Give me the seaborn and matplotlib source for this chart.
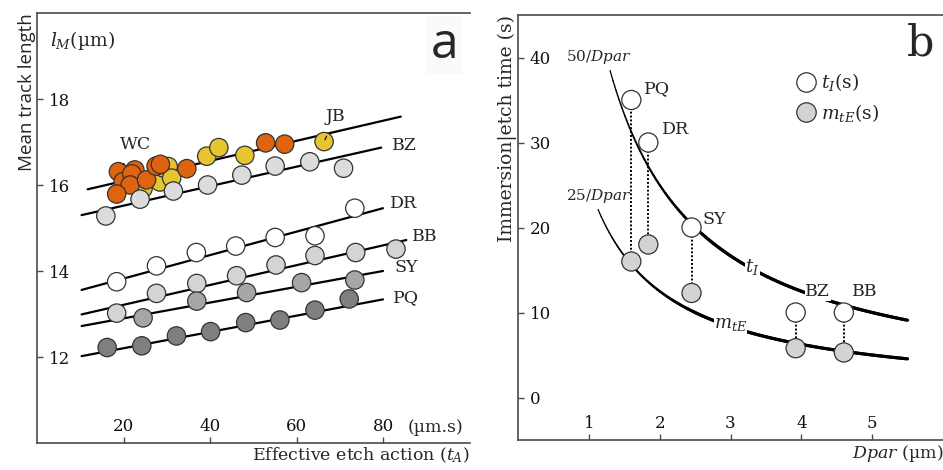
import numpy as np
import pandas as pd
import matplotlib
matplotlib.use("Agg")
import matplotlib.pyplot as plt
import seaborn as sns
from matplotlib.collections import LineCollection
from matplotlib.lines import Line2D

# ---------------- Panel a data ----------------
jb_x = [24.5, 28.4, 29.1, 30.3, 31.1, 39.2, 42.0, 48.0, 66.3]
jb_y = [15.92, 16.07, 16.40, 16.43, 16.16, 16.67, 16.87, 16.69, 17.01]
wc_x = [18.8, 22.6, 19.9, 21.9, 21.5, 18.4, 25.3, 27.5, 28.5, 34.6, 52.8, 57.2]
wc_y = [16.31, 16.35, 16.08, 16.26, 16.00, 15.79, 16.12, 16.44, 16.48, 16.38, 16.98, 16.95]
bz_x = [15.9, 23.8, 31.5, 39.4, 47.3, 55.0, 63.0, 70.8]
bz_y = [15.28, 15.67, 15.86, 16.00, 16.23, 16.44, 16.54, 16.39]
dr_x = [18.4, 27.6, 36.8, 45.9, 55.0, 64.2, 73.4]
dr_y = [13.75, 14.12, 14.43, 14.58, 14.78, 14.82, 15.46]
bb_x = [18.4, 27.6, 36.9, 46.1, 55.2, 64.2, 73.6, 82.9]
bb_y = [13.02, 13.48, 13.71, 13.89, 14.14, 14.36, 14.43, 14.51]
sy_x = [24.5, 36.9, 48.4, 61.1, 73.4]
sy_y = [12.91, 13.30, 13.50, 13.73, 13.79]
pq_x = [16.2, 24.2, 32.2, 40.1, 48.2, 56.1, 64.2, 72.1]
pq_y = [12.22, 12.26, 12.49, 12.59, 12.80, 12.86, 13.09, 13.35]

# fitted trend lines: start/end x and y
fit_names = ["JB", "BZ", "DR", "BB", "SY", "PQ"]
fit_x0 = [11.7, 10.3, 10.3, 10.3, 10.3, 10.3]
fit_x1 = [84.0, 79.5, 79.9, 85.3, 79.9, 79.9]
fit_y0 = [15.90, 15.30, 13.56, 12.99, 12.72, 12.02]
fit_y1 = [17.59, 16.87, 15.46, 14.72, 14.00, 13.34]

a_xticks = [20, 40, 60, 80]
a_yticks = [12, 14, 16, 18]

# ---------------- Panel b data ----------------
b_names = ["PQ", "DR", "SY", "BZ", "BB"]
dpar = [1.60, 1.84, 2.45, 3.92, 4.60]
t_i = [35.0, 30.0, 20.0, 10.0, 10.0]
m_te = [16.0, 18.0, 12.3, 5.8, 5.3]
curve_coef = [50, 25]
curve_x0 = [1.30, 1.13]
curve_x1 = [5.5, 5.5]
b_xticks = [1, 2, 3, 4, 5]
b_yticks = [0, 10, 20, 30, 40]

# ---------------- style ----------------
sns.set_style("ticks")
plt.rcParams["font.family"] = ["DejaVu Serif"]
plt.rcParams["mathtext.fontset"] = "dejavuserif"

spine_c = "#4a4a4a"
edge_c = "#333333"
pal = {"JB": "#e6c531", "WC": "#e0640f", "BZ": "#dcdcdc", "DR": "#ffffff",
       "BB": "#d4d4d4", "SY": "#a6a6a6", "PQ": "#7f7f7f"}

fig = plt.figure(figsize=(9.43, 4.70), dpi=100)
ax1 = fig.add_axes([37 / 943, 27 / 470, 433 / 943, 430 / 470])
ax2 = fig.add_axes([518 / 943, 30 / 470, 425 / 943, 425 / 470])

def style_axes(ax):
    for s in ["left", "bottom", "top"]:
        ax.spines[s].set_color(spine_c)
        ax.spines[s].set_linewidth(1.2)
    ax.spines["right"].set_visible(False)
    ax.tick_params(direction="in", length=4, width=1, color=spine_c,
                   labelsize=12, labelcolor="#111111")
    ax.tick_params(axis="y", pad=-8.5)
    ax.tick_params(axis="x", pad=-18)
    ax.tick_params(top=False, right=False)

# ---------------- Panel a ----------------
frames = []
for name, xs, ys in [("JB", jb_x, jb_y), ("WC", wc_x, wc_y), ("BZ", bz_x, bz_y),
                     ("DR", dr_x, dr_y), ("BB", bb_x, bb_y), ("SY", sy_x, sy_y),
                     ("PQ", pq_x, pq_y)]:
    frames.append(pd.DataFrame({"x": xs, "y": ys, "series": name}))
df_a = pd.concat(frames, ignore_index=True)

for x0, x1, y0, y1 in zip(fit_x0, fit_x1, fit_y0, fit_y1):
    sns.lineplot(x=[x0, x1], y=[y0, y1], ax=ax1, color="black", lw=1.6, zorder=2)

sns.scatterplot(data=df_a, x="x", y="y", hue="series", palette=pal, s=175,
                edgecolor=edge_c, linewidth=0.9, legend=False, ax=ax1, zorder=3)

ax1.set_xlim(0, 100)
ax1.set_ylim(10, 20)
ax1.set_xticks(a_xticks)
ax1.set_yticks(a_yticks)
style_axes(ax1)
for lab in ax1.get_yticklabels():
    lab.set_horizontalalignment("left")

ax1.set_ylabel("Mean track length", family="Open Sans", fontsize=13.5, loc="top",
               labelpad=1)
ax1.set_xlabel(r"Effective etch action ($t_A$)", fontsize=12.5, loc="right", labelpad=2)
ax1.text(85.6, 10.0 + (443 - 428) / 43, "(µm.s)", fontsize=12.5, va="center", ha="left")
ax1.text(0.03, 0.935, r"$l_M$(µm)", transform=ax1.transAxes, fontsize=13.5,
         va="center", ha="left")
ax1.text(0.942, 0.926, "a", transform=ax1.transAxes, fontsize=36, family="Open Sans",
         va="center", ha="center",
         bbox=dict(facecolor="#fafafa", edgecolor="none", pad=3))

# line labels
lab_pos = {"BZ": (81.9, 16.93), "DR": (81.5, 15.57), "BB": (86.5, 14.80),
           "SY": (82.6, 14.08), "PQ": (82.2, 13.38)}
for k, (lx, ly) in lab_pos.items():
    ax1.text(lx, ly, k, fontsize=12.5, va="center", ha="left")
ax1.annotate("WC", xy=(19.9, 16.47), xytext=(22.8, 16.94), fontsize=12.5,
             ha="center", va="center",
             arrowprops=dict(arrowstyle="-", color="black", lw=0.8, shrinkA=6, shrinkB=0))
ax1.annotate("JB", xy=(66.5, 17.05), xytext=(68.8, 17.59), fontsize=12.5,
             ha="center", va="center",
             arrowprops=dict(arrowstyle="-", color="black", lw=0.8, shrinkA=6, shrinkB=0))

# ---------------- Panel b ----------------
for coef, cx0, cx1 in zip(curve_coef, curve_x0, curve_x1):
    xs = np.linspace(cx0, cx1, 200)
    ys = coef / xs
    pts = np.column_stack([xs, ys]).reshape(-1, 1, 2)
    segs = np.concatenate([pts[:-1], pts[1:]], axis=1)
    frac = np.clip((xs[:-1] - cx0) / 1.4, 0, 1)
    lc = LineCollection(segs, linewidths=0.9 + 1.4 * frac, colors="black",
                        capstyle="round", zorder=2)
    ax2.add_collection(lc)

for xv, y_top, y_bot in zip(dpar, t_i, m_te):
    ax2.plot([xv, xv], [y_top, y_bot], ls=(0, (1, 1)), color="black", lw=1.4, zorder=2.5)

df_b = pd.DataFrame({"Dpar": dpar * 2, "val": t_i + m_te,
                     "kind": ["tI"] * len(dpar) + ["mtE"] * len(dpar)})
sns.scatterplot(data=df_b, x="Dpar", y="val", hue="kind",
                palette={"tI": "#ffffff", "mtE": "#d3d3d3"}, s=190,
                edgecolor=edge_c, linewidth=0.9, legend=False, ax=ax2, zorder=3)

ax2.set_xlim(0, 6)
ax2.set_ylim(-5, 45)
ax2.set_xticks(b_xticks)
ax2.set_yticks(b_yticks)
style_axes(ax2)
for lab in ax2.get_yticklabels():
    lab.set_horizontalalignment("left")

ax2.set_ylabel("Immersion|etch time (s)", fontsize=13.5, loc="top", labelpad=1)
ax2.set_xlabel(r"$Dpar$ (µm)", fontsize=12.5, loc="right", labelpad=2)

b_offsets = {"PQ": (9, 8), "DR": (10, 9), "SY": (8, 6), "BZ": (7, 15), "BB": (6, 15)}
for n, xv, yv in zip(b_names, dpar, t_i):
    dx, dy = b_offsets[n]
    ax2.annotate(n, xy=(xv, yv), xytext=(dx, dy), textcoords="offset points",
                 fontsize=12.5, ha="left", va="center", zorder=4,
                 bbox=dict(facecolor="white", edgecolor="none", pad=0.5))

ax2.text(1.135, 40.0, r"$50/Dpar$", fontsize=11, ha="center", va="center")
ax2.text(1.135, 23.7, r"$25/Dpar$", fontsize=11, ha="center", va="center")
ax2.text(3.31, 15.4, r"$t_I$", fontsize=13, ha="center", va="center",
         bbox=dict(facecolor="white", edgecolor="none", pad=0.3), zorder=4)
ax2.text(3.0, 8.6, r"$m_{tE}$", fontsize=13, ha="center", va="center",
         bbox=dict(facecolor="white", edgecolor="none", pad=0.3), zorder=4)
ax2.text(0.946, 0.934, "b", transform=ax2.transAxes, fontsize=31,
         va="center", ha="center")

handles = [Line2D([], [], marker="o", ls="none", markersize=14, markerfacecolor="#ffffff",
                  markeredgecolor=edge_c, markeredgewidth=0.9),
           Line2D([], [], marker="o", ls="none", markersize=14, markerfacecolor="#d3d3d3",
                  markeredgecolor=edge_c, markeredgewidth=0.9)]
ax2.legend(handles, [r"$t_I$(s)", r"$m_{tE}$(s)"], loc="upper left",
           bbox_to_anchor=(0.63, 0.89), frameon=False, fontsize=13.5,
           handletextpad=0.2, labelspacing=0.45, borderpad=0, handlelength=1.2)

fig.savefig("out.png", dpi=100)
